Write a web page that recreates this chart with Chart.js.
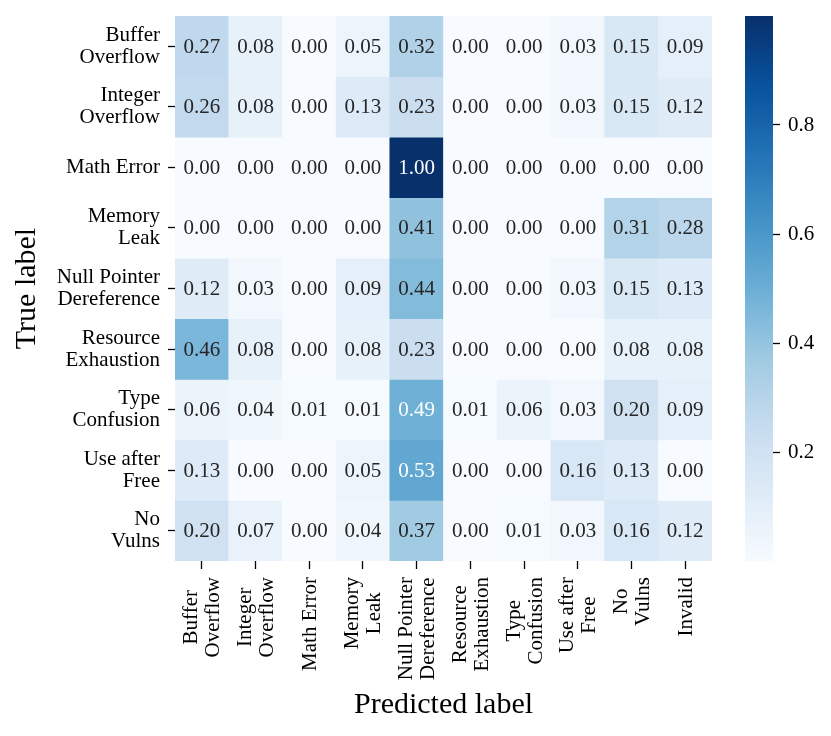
<!DOCTYPE html>
<html>
<head>
<meta charset="utf-8">
<script src="https://cdn.jsdelivr.net/npm/chart.js@4.4.1/dist/chart.umd.min.js"></script>
<style>
  html, body { margin: 0; padding: 0; background: #ffffff; }
  #wrap { position: relative; width: 831px; height: 736px; }
  #wrap canvas { position: absolute; left: 0; top: 0; }
</style>
</head>
<body>
<div id="wrap">
  <canvas id="heat" width="831" height="736"></canvas>
  <canvas id="cbar" width="831" height="736"></canvas>
</div>
<script>
// ---- Data ----
const rowLabels = [
  ['Buffer', 'Overflow'],
  ['Integer', 'Overflow'],
  ['Math Error'],
  ['Memory', 'Leak'],
  ['Null Pointer', 'Dereference'],
  ['Resource', 'Exhaustion'],
  ['Type', 'Confusion'],
  ['Use after', 'Free'],
  ['No', 'Vulns']
];
const colLabels = [
  ['Buffer', 'Overflow'],
  ['Integer', 'Overflow'],
  ['Math Error'],
  ['Memory', 'Leak'],
  ['Null Pointer', 'Dereference'],
  ['Resource', 'Exhaustion'],
  ['Type', 'Confusion'],
  ['Use after', 'Free'],
  ['No', 'Vulns'],
  ['Invalid']
];
const bufferOverflow  = [0.27, 0.08, 0.00, 0.05, 0.32, 0.00, 0.00, 0.03, 0.15, 0.09];
const integerOverflow = [0.26, 0.08, 0.00, 0.13, 0.23, 0.00, 0.00, 0.03, 0.15, 0.12];
const mathError       = [0.00, 0.00, 0.00, 0.00, 1.00, 0.00, 0.00, 0.00, 0.00, 0.00];
const memoryLeak      = [0.00, 0.00, 0.00, 0.00, 0.41, 0.00, 0.00, 0.00, 0.31, 0.28];
const nullPointer     = [0.12, 0.03, 0.00, 0.09, 0.44, 0.00, 0.00, 0.03, 0.15, 0.13];
const resourceExh     = [0.46, 0.08, 0.00, 0.08, 0.23, 0.00, 0.00, 0.00, 0.08, 0.08];
const typeConfusion   = [0.06, 0.04, 0.01, 0.01, 0.49, 0.01, 0.06, 0.03, 0.20, 0.09];
const useAfterFree    = [0.13, 0.00, 0.00, 0.05, 0.53, 0.00, 0.00, 0.16, 0.13, 0.00];
const noVulns         = [0.20, 0.07, 0.00, 0.04, 0.37, 0.00, 0.01, 0.03, 0.16, 0.12];
const matrixRows = [bufferOverflow, integerOverflow, mathError, memoryLeak, nullPointer,
                    resourceExh, typeConfusion, useAfterFree, noVulns];
const colorbarTicks = [0.2, 0.4, 0.6, 0.8];
const colorMin = 0.0;
const colorMax = 1.0;

// ---- Blues colormap ----
const bluesStops = ['#f7fbff','#deebf7','#c6dbef','#9ecae1','#6baed6','#4292c6','#2171b5','#08519c','#08306b'];
function hexRgb(h) { return [parseInt(h.slice(1,3),16), parseInt(h.slice(3,5),16), parseInt(h.slice(5,7),16)]; }
const bluesRgb = bluesStops.map(hexRgb);
function bluesAt(t) {
  t = Math.max(0, Math.min(1, t));
  const p = t * (bluesRgb.length - 1);
  const i = Math.min(Math.floor(p), bluesRgb.length - 2);
  const f = p - i;
  const a = bluesRgb[i], b = bluesRgb[i + 1];
  return [0,1,2].map(k => a[k] + (b[k] - a[k]) * f);
}
function cellColor(v) {
  const c = bluesAt((v - colorMin) / (colorMax - colorMin));
  return `rgb(${Math.round(c[0])},${Math.round(c[1])},${Math.round(c[2])})`;
}
function textColorFor(v) {
  const c = bluesAt((v - colorMin) / (colorMax - colorMin)).map(x => {
    x = x / 255;
    return x <= 0.03928 ? x / 12.92 : Math.pow((x + 0.055) / 1.055, 2.4);
  });
  const lum = 0.2126 * c[0] + 0.7152 * c[1] + 0.0722 * c[2];
  return lum > 0.408 ? '#262626' : '#ffffff';
}

const FONT = 'Liberation Serif, Times New Roman, serif';

// ---- Plugins ----
const annotatePlugin = {
  id: 'annotate',
  afterDatasetsDraw(chart) {
    const ctx = chart.ctx;
    ctx.save();
    ctx.font = `21px ${FONT}`;
    ctx.textAlign = 'center';
    ctx.textBaseline = 'middle';
    chart.data.datasets.forEach((ds, di) => {
      const meta = chart.getDatasetMeta(di);
      meta.data.forEach((el, ci) => {
        const v = ds.values[ci];
        ctx.fillStyle = textColorFor(v);
        ctx.fillText(v.toFixed(2), el.x, (el.y + el.base) / 2 + 1);
      });
    });
    ctx.restore();
  }
};

const xLabelPlugin = {
  id: 'xlabels',
  afterDraw(chart) {
    const xs = chart.scales.x;
    const ctx = chart.ctx;
    const lh = 22;
    const topY = chart.chartArea.bottom + 16;
    ctx.save();
    ctx.font = `21px ${FONT}`;
    ctx.fillStyle = '#000';
    ctx.textAlign = 'center';
    ctx.textBaseline = 'middle';
    colLabels.forEach((lines, i) => {
      const x = xs.getPixelForValue(i);
      const maxW = Math.max(...lines.map(l => ctx.measureText(l).width));
      ctx.save();
      ctx.translate(x, topY);
      ctx.rotate(-Math.PI / 2);
      lines.forEach((l, j) => {
        const off = (j - (lines.length - 1) / 2) * lh;
        ctx.fillText(l, -maxW / 2, off + 1);
      });
      ctx.restore();
    });
    ctx.restore();
  }
};

// ---- Heatmap ----
const heatDatasets = matrixRows.map((row, r) => ({
  label: rowLabels[r].join(' '),
  values: row,
  data: row.map(() => [r, r + 1]),
  backgroundColor: row.map(v => cellColor(v)),
  borderWidth: 0,
  borderSkipped: false,
  barPercentage: 1,
  categoryPercentage: 1,
  grouped: false
}));

function noPad(s) { s.paddingTop = 0; s.paddingBottom = 0; s.paddingLeft = 0; s.paddingRight = 0; }

new Chart(document.getElementById('heat'), {
  type: 'bar',
  data: { labels: colLabels.map(l => l.join(' ')), datasets: heatDatasets },
  options: {
    responsive: false,
    animation: false,
    devicePixelRatio: 1,
    layout: { padding: { top: 16, right: 119, left: 0, bottom: 0 } },
    plugins: { legend: { display: false }, tooltip: { enabled: false } },
    scales: {
      x: {
        type: 'category',
        afterFit: s => { s.height = 175; noPad(s); },
        border: { display: false },
        grid: { display: true, offset: false, drawOnChartArea: false, drawTicks: true,
                tickLength: 8, tickColor: '#000', tickWidth: 1.3 },
        ticks: { display: false },
        title: { display: true, text: 'Predicted label', color: '#000',
                 font: { family: FONT, size: 30 }, padding: { top: 0, bottom: 13 } }
      },
      y: {
        type: 'linear',
        min: 0, max: matrixRows.length,
        reverse: true,
        afterFit: s => { s.width = 175; noPad(s); },
        afterBuildTicks: s => { s.ticks = rowLabels.map((_, i) => ({ value: i + 0.5 })); },
        border: { display: false },
        grid: { display: true, drawOnChartArea: false, drawTicks: true,
                tickLength: 7, tickColor: '#000', tickWidth: 1.3 },
        ticks: {
          color: '#000',
          font: { family: FONT, size: 21, lineHeight: 1.05 },
          padding: 8,
          callback: (v, i) => rowLabels[i]
        },
        title: { display: true, text: 'True label', color: '#000',
                 font: { family: FONT, size: 30 }, padding: { top: 9, bottom: 0 } }
      }
    }
  },
  plugins: [annotatePlugin, xLabelPlugin]
});

// ---- Colorbar ----
new Chart(document.getElementById('cbar'), {
  type: 'bar',
  data: {
    labels: ['colorbar'],
    datasets: [{
      data: [[colorMin, colorMax]],
      backgroundColor: (c) => {
        const ca = c.chart.chartArea;
        if (!ca) return bluesStops[4];
        const g = c.chart.ctx.createLinearGradient(0, ca.bottom, 0, ca.top);
        bluesStops.forEach((s, i) => g.addColorStop(i / (bluesStops.length - 1), s));
        return g;
      },
      borderWidth: 0,
      borderSkipped: false,
      barPercentage: 1,
      categoryPercentage: 1
    }]
  },
  options: {
    responsive: false,
    animation: false,
    devicePixelRatio: 1,
    layout: { padding: { top: 16, right: 0, left: 745, bottom: 175 } },
    plugins: { legend: { display: false }, tooltip: { enabled: false } },
    scales: {
      x: { display: false },
      y: {
        position: 'right',
        min: colorMin, max: colorMax,
        afterFit: s => { s.width = 58; noPad(s); },
        afterBuildTicks: s => { s.ticks = colorbarTicks.map(v => ({ value: v })); },
        border: { display: false },
        grid: { display: true, drawOnChartArea: false, drawTicks: true,
                tickLength: 7, tickColor: '#000', tickWidth: 1.3 },
        ticks: {
          color: '#000',
          font: { family: FONT, size: 21 },
          padding: 8,
          callback: v => v.toFixed(1)
        }
      }
    }
  }
});
</script>
</body>
</html>
